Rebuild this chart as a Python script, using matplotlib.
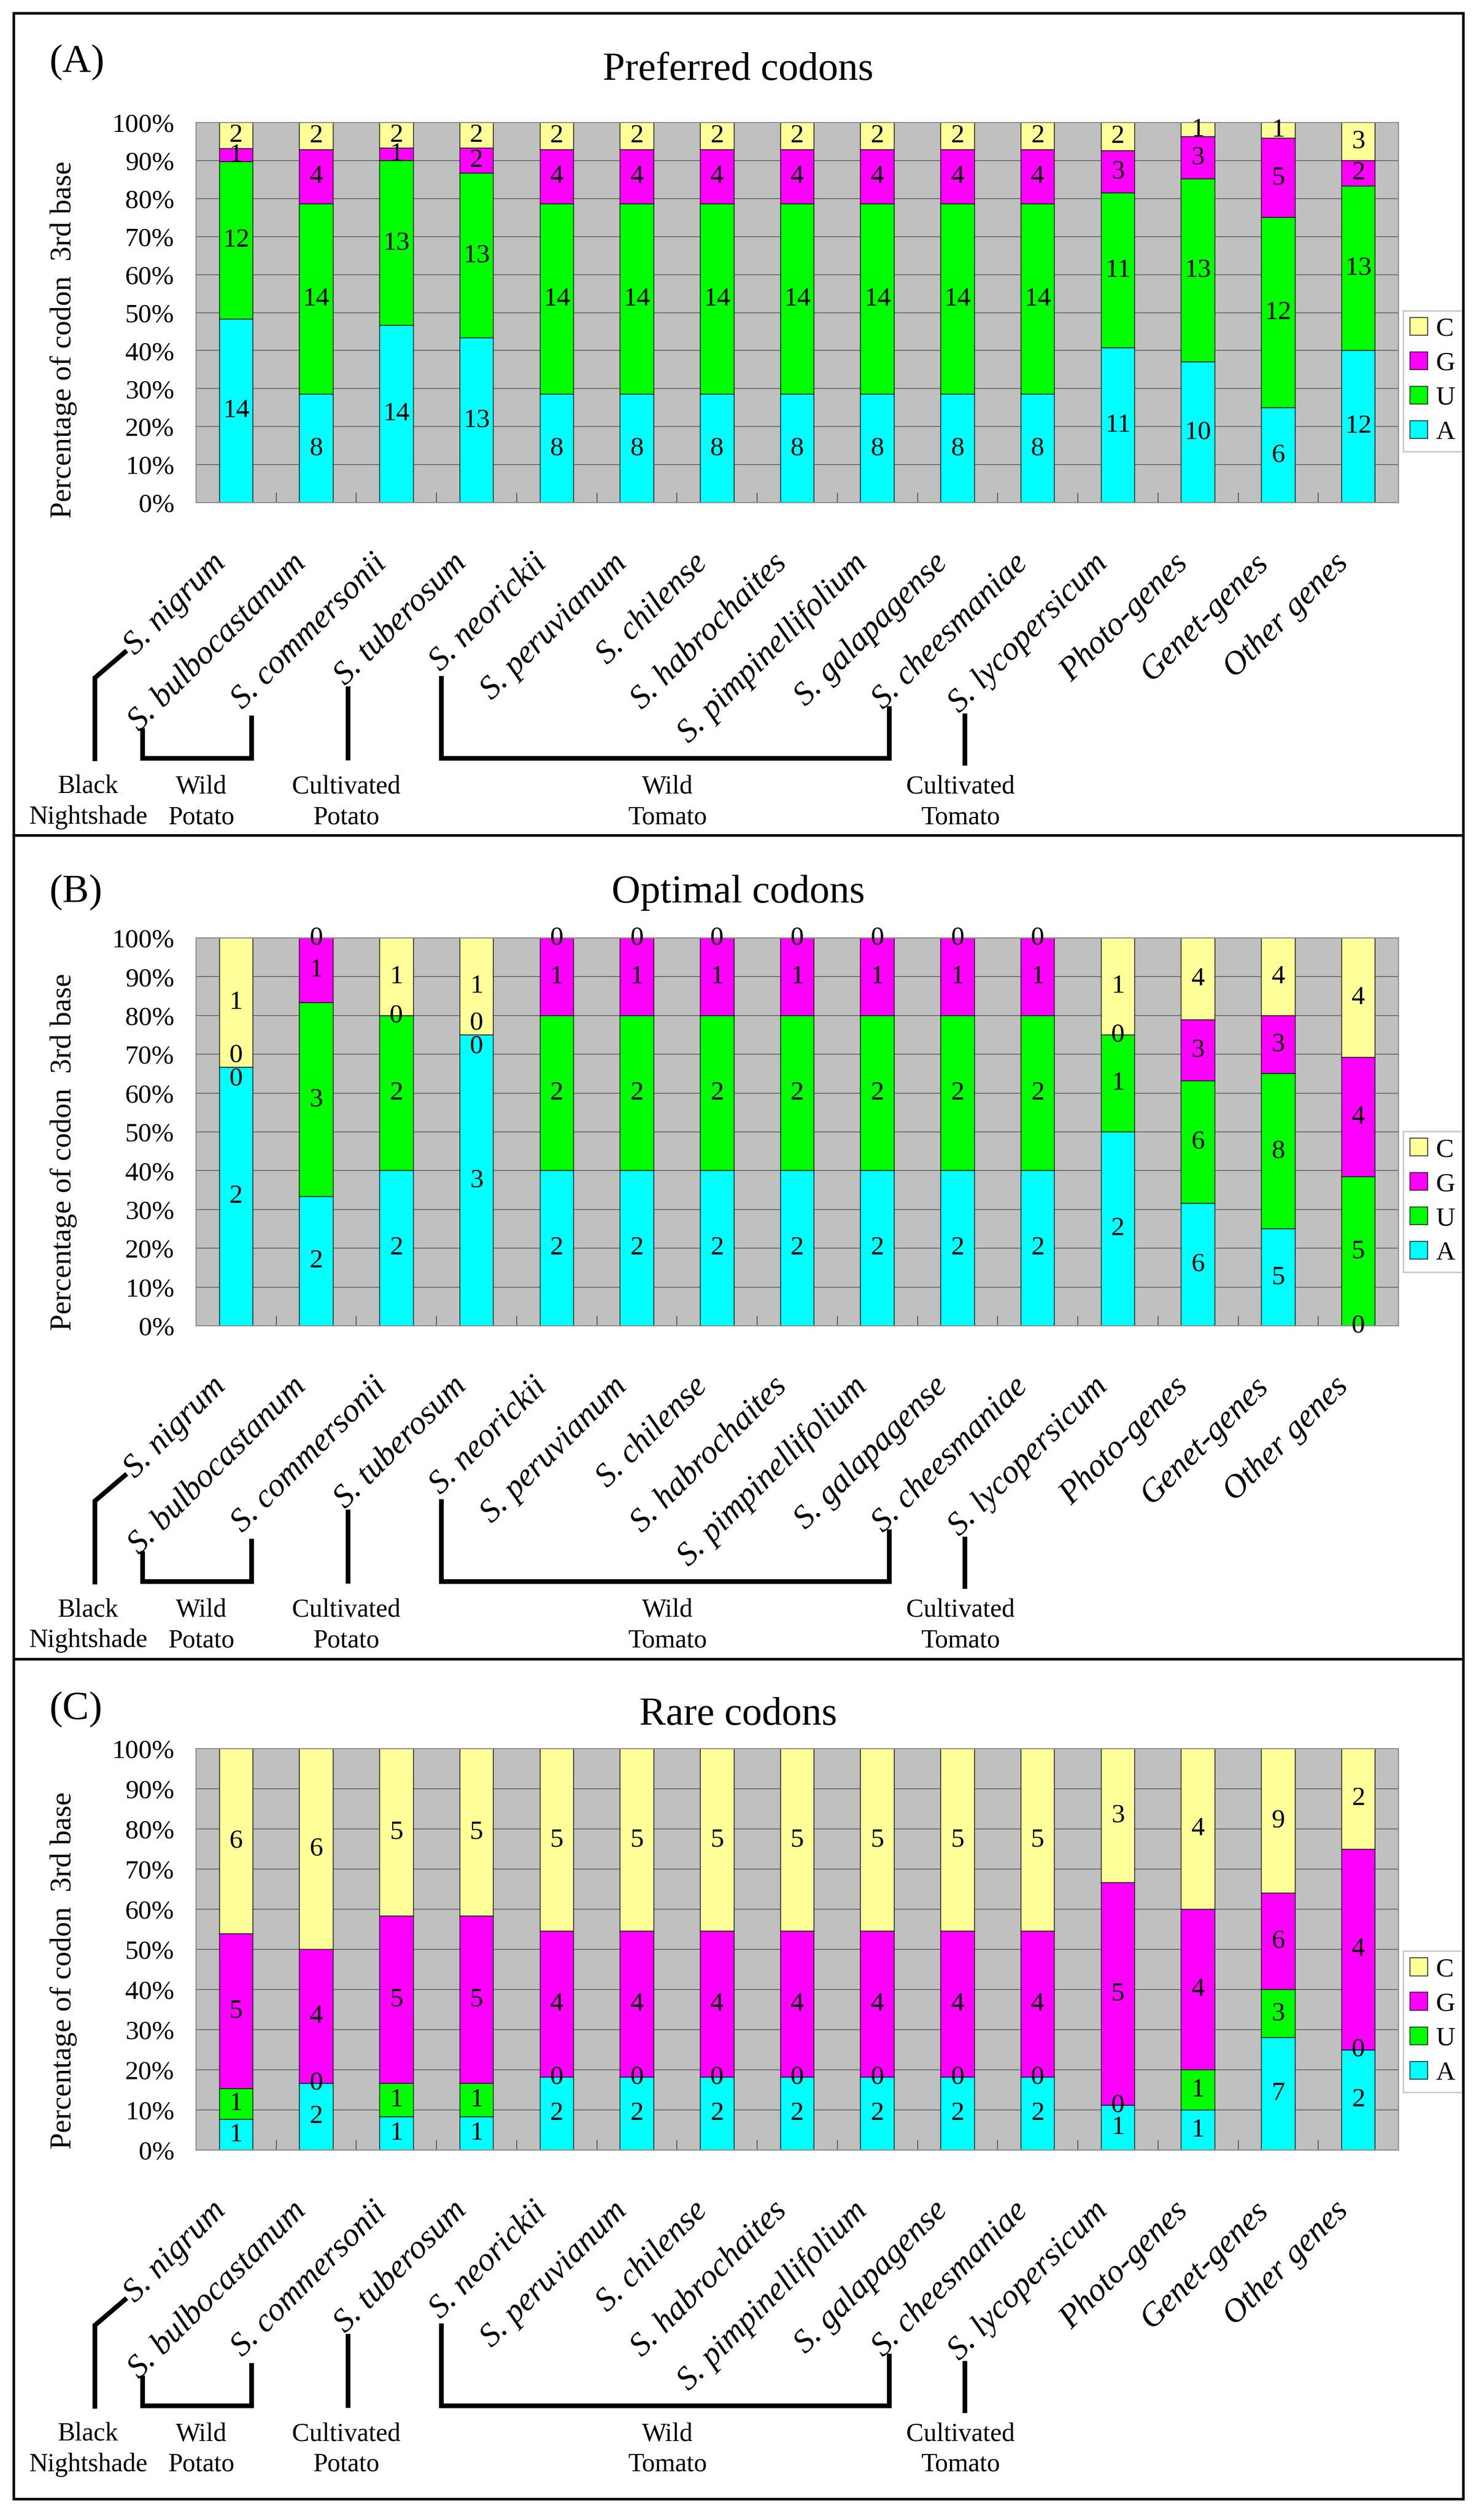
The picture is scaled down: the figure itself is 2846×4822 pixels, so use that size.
import matplotlib
matplotlib.use("Agg")
import matplotlib.pyplot as plt
import numpy as np
from matplotlib.transforms import ScaledTranslation
from matplotlib.patches import Rectangle, Patch
from matplotlib.lines import Line2D

plt.rcParams['font.family'] = ['Liberation Serif', 'DejaVu Serif']

# ---------------- data ----------------
categories = ["S. nigrum", "S. bulbocastanum", "S. commersonii", "S. tuberosum",
              "S. neorickii", "S. peruvianum", "S. chilense", "S. habrochaites",
              "S. pimpinellifolium", "S. galapagense", "S. cheesmaniae",
              "S. lycopersicum", "Photo-genes", "Genet-genes", "Other genes"]
bases = ["A", "U", "G", "C"]

pref_A = [14, 8, 14, 13, 8, 8, 8, 8, 8, 8, 8, 11, 10, 6, 12]
pref_U = [12, 14, 13, 13, 14, 14, 14, 14, 14, 14, 14, 11, 13, 12, 13]
pref_G = [1, 4, 1, 2, 4, 4, 4, 4, 4, 4, 4, 3, 3, 5, 2]
pref_C = [2, 2, 2, 2, 2, 2, 2, 2, 2, 2, 2, 2, 1, 1, 3]

opt_A = [2, 2, 2, 3, 2, 2, 2, 2, 2, 2, 2, 2, 6, 5, 0]
opt_U = [0, 3, 2, 0, 2, 2, 2, 2, 2, 2, 2, 1, 6, 8, 5]
opt_G = [0, 1, 0, 0, 1, 1, 1, 1, 1, 1, 1, 0, 3, 3, 4]
opt_C = [1, 0, 1, 1, 0, 0, 0, 0, 0, 0, 0, 1, 4, 4, 4]

rare_A = [1, 2, 1, 1, 2, 2, 2, 2, 2, 2, 2, 1, 1, 7, 2]
rare_U = [1, 0, 1, 1, 0, 0, 0, 0, 0, 0, 0, 0, 1, 3, 0]
rare_G = [5, 4, 5, 5, 4, 4, 4, 4, 4, 4, 4, 5, 4, 6, 4]
rare_C = [6, 6, 5, 5, 5, 5, 5, 5, 5, 5, 5, 3, 4, 9, 2]

panel_tags = ["(A)", "(B)", "(C)"]
panel_titles = ["Preferred codons", "Optimal codons", "Rare codons"]
panel_data = [(pref_A, pref_U, pref_G, pref_C),
              (opt_A, opt_U, opt_G, opt_C),
              (rare_A, rare_U, rare_G, rare_C)]

group_names = [("Black", "Nightshade"), ("Wild", "Potato"), ("Cultivated", "Potato"),
               ("Wild", "Tomato"), ("Cultivated", "Tomato")]

colors = {"A": "#00FFFF", "U": "#00FF00", "G": "#FF00FF", "C": "#FFFF99"}

# ---------------- layout (pixels) ----------------
W, H = 2846, 4822
fig = plt.figure(figsize=(W / 100, H / 100), dpi=100)
fig.patch.set_facecolor("white")


def fx(px):
    return px / W


def fy(py):
    return 1 - py / H


ax_left, ax_right = 376, 2682
boxes = [(25, 1602), (1602, 3182), (3182, 4793)]
plots = [(235, 964), (1799, 2543), (3354, 4124)]
tag_base = [138, 1730, 3297]
title_base = [153, 1731, 3308]
ylabel_center = [652, 2210, 3780]

# bracket geometry relative to plot bottom (x px, dy px below plot bottom)
bracket_paths = [
    [(243, 284), (182, 336), (182, 496)],
    [(273, 432), (273, 490), (482, 490), (482, 408)],
    [(667, 352), (667, 494)],
    [(846, 332), (846, 490), (1705, 490), (1705, 390)],
    [(1850, 404), (1850, 504)],
]
group_x = [169, 386, 664, 1280, 1842]

for p in range(3):
    top, bot = plots[p]
    ax = fig.add_axes([fx(ax_left), fy(bot), fx(ax_right - ax_left), (bot - top) / H])
    counts = np.array(panel_data[p], dtype=float)
    totals = counts.sum(axis=0)
    frac = counts / totals
    x = np.arange(len(categories))
    bottoms = np.zeros(len(categories))
    for k, b in enumerate(bases):
        ax.bar(x, frac[k], width=0.42, bottom=bottoms, color=colors[b],
               edgecolor="#1a1a1a", linewidth=1.1, zorder=2, label=b)
        bottoms = bottoms + frac[k]

    # value labels
    for i in range(len(categories)):
        cum = np.concatenate([[0], np.cumsum(frac[:, i])])
        offsets = {}
        k = 0
        while k < 4:
            if counts[k, i] == 0:
                run = [k]
                while k + 1 < 4 and counts[k + 1, i] == 0:
                    k += 1
                    run.append(k)
                if len(run) == 2:
                    offsets[run[0]] = -0.03
                    offsets[run[1]] = 0.03
                else:
                    for r in run:
                        offsets[r] = 0.0
            k += 1
        for k in range(4):
            yc = (cum[k] + cum[k + 1]) / 2 + offsets.get(k, 0.0)
            ax.text(x[i], yc, f"{int(counts[k, i])}", ha="center", va="center",
                    fontsize=37, zorder=5, color="black")

    ax.set_xlim(-0.5, len(categories) - 0.5)
    ax.set_ylim(0, 1)
    ax.set_facecolor("#C0C0C0")
    ax.set_yticks(np.linspace(0, 1, 11))
    ax.set_yticklabels([f"{v}%" for v in range(0, 101, 10)], fontsize=37)
    ax.tick_params(axis="y", length=0, pad=30)
    ax.set_xticks(np.arange(len(categories) + 1) - 0.5)
    ax.set_xticklabels([])
    ax.tick_params(axis="x", direction="in", length=14, width=1.3, color="#555555")
    ax.yaxis.grid(True, color="#5a5a5a", linewidth=1.1, zorder=0)
    ax.set_axisbelow(True)
    for s in ax.spines.values():
        s.set_color("#8c8c8c")
        s.set_linewidth(1.5)

    # category labels
    off = ScaledTranslation(-0.28, -1.08, fig.dpi_scale_trans)
    for i, name in enumerate(categories):
        ax.text(x[i], 0, name, transform=ax.get_xaxis_transform() + off,
                rotation=45, rotation_mode="anchor", ha="right", va="center",
                fontsize=46, style="italic")

    # legend
    leg_handles = [Patch(facecolor=colors[b], edgecolor="#1a1a1a", linewidth=1.1, label=b)
                   for b in ["C", "G", "U", "A"]]
    leg = ax.legend(handles=leg_handles, loc="center left", bbox_to_anchor=(1.004, 0.32),
                    fontsize=37, handlelength=0.66, handleheight=0.66, handletextpad=0.3,
                    labelspacing=0.38, borderpad=0.25, borderaxespad=0, frameon=True,
                    fancybox=False)
    leg.get_frame().set_edgecolor("#BBBBBB")
    leg.get_frame().set_linewidth(2)

    # titles
    fig.text(fx(1416), fy(title_base[p]), panel_titles[p], ha="center", va="baseline",
             fontsize=55)
    fig.text(fx(95), fy(tag_base[p]), panel_tags[p], ha="left", va="baseline", fontsize=55)

    # y label
    fig.text(fx(122), fy(ylabel_center[p]), "Percentage of codon  3rd base", rotation=90,
             ha="center", va="center", fontsize=41)

    # brackets
    for path in bracket_paths:
        xs = [fx(px) for px, dy in path]
        ys = [fy(bot + dy) for px, dy in path]
        fig.add_artist(Line2D(xs, ys, transform=fig.transFigure, color="black",
                              linewidth=6.5, solid_capstyle="butt", solid_joinstyle="miter"))
    for gx, (l1, l2) in zip(group_x, group_names):
        fig.text(fx(gx), fy(bot + 558), l1, ha="center", va="baseline", fontsize=36)
        fig.text(fx(gx), fy(bot + 616), l2, ha="center", va="baseline", fontsize=36)

    # panel border
    y0, y1 = boxes[p]
    fig.add_artist(Rectangle((fx(26), fy(y1)), fx(2806 - 26), (y1 - y0) / H,
                             transform=fig.transFigure, fill=False, edgecolor="black",
                             linewidth=3.5))

fig.savefig("out.png", dpi=100, facecolor="white")
